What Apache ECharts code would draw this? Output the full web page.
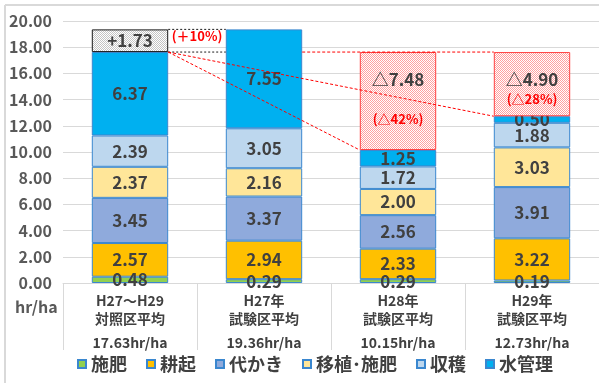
<!DOCTYPE html>
<html>
<head>
<meta charset="utf-8">
<script src="https://cdn.jsdelivr.net/npm/echarts@6/dist/echarts.min.js"></script>
<style>
  html, body { margin: 0; padding: 0; background: #fff; }
  #chart { width: 599px; height: 383px; }
</style>
</head>
<body>
<div id="chart"></div>
<script>
// Work hours per hectare by task, stacked per plot group
const categories = ['H27～H29\n対照区平均', 'H27年\n試験区平均', 'H28年\n試験区平均', 'H29年\n試験区平均'];
const taskNames = ['施肥', '耕起', '代かき', '移植･施肥', '収穫', '水管理'];
const fertilizing = [0.48, 0.29, 0.29, 0.19];
const tilling = [2.57, 2.94, 2.33, 3.22];
const puddling = [3.45, 3.37, 2.56, 3.91];
const transplanting = [2.37, 2.16, 2.00, 3.03];
const harvesting = [2.39, 3.05, 1.72, 1.88];
const waterManagement = [6.37, 7.55, 1.25, 0.50];
// difference against the control average (index 0 holds the increase of H27)
const diffValues = [1.73, null, 7.48, 4.90];
const diffPercents = [10, null, 42, 28];
const yMin = 0, yMax = 20, yStep = 2;

const taskData = [fertilizing, tilling, puddling, transplanting, harvesting, waterManagement];
const taskColors = ['#92d050', '#ffc000', '#8faadc', '#ffe699', '#bdd7ee', '#00b0f0'];
const totals = categories.map((_, i) => taskData.reduce((s, arr) => s + arr[i], 0));

const FONT = '"Noto Sans CJK JP", "Noto Sans", sans-serif';
const BAR_RATIO = 0.57;

function checker(fg) {
  const c = document.createElement('canvas');
  c.width = 2; c.height = 2;
  const g = c.getContext('2d');
  g.fillStyle = '#ffffff'; g.fillRect(0, 0, 2, 2);
  g.fillStyle = fg; g.fillRect(0, 0, 1, 1); g.fillRect(1, 1, 1, 1);
  return c;
}
const greyFill = { image: checker('#c4c4c4'), repeat: 'repeat' };
const pinkFill = { image: checker('#ffa0a0'), repeat: 'repeat' };

const chart = echarts.init(document.getElementById('chart'), null, { renderer: 'canvas' });

const taskSeries = taskNames.map((name, k) => ({
  name,
  type: 'bar',
  stack: 'total',
  barWidth: (BAR_RATIO * 100) + '%',
  data: taskData[k],
  itemStyle: { color: taskColors[k], borderColor: '#3a87cf', borderWidth: 1 },
  label: {
    show: true,
    position: 'inside',
    color: '#404040',
    fontFamily: FONT,
    fontWeight: 'bold',
    fontSize: 17,
    formatter: p => p.value.toFixed(2)
  },
  z: 2
}));

const diffSeries = {
  name: '差',
  type: 'bar',
  stack: 'total',
  barWidth: (BAR_RATIO * 100) + '%',
  z: 3,
  data: diffValues.map((v, i) => {
    if (v == null) return '-';
    const increase = i === 0;
    return {
      value: v,
      itemStyle: increase
        ? { color: greyFill, borderColor: '#1a1a1a', borderWidth: 1 }
        : { color: pinkFill, borderColor: '#ff4040', borderWidth: 1 },
      label: increase
        ? { show: true, position: 'inside', formatter: '+' + v.toFixed(2),
            color: '#404040', fontFamily: FONT, fontWeight: 'bold', fontSize: 17 }
        : {
            show: true, position: 'inside',
            offset: i === 2 ? [0, -2] : [0, 5],
            formatter: i === 2
              ? '{v|△' + v.toFixed(2) + '}\n{s| }\n{p|(△' + diffPercents[i] + '%)}'
              : '{v|△' + v.toFixed(2) + '}\n{p|(△' + diffPercents[i] + '%)}',
            rich: {
              v: { color: '#404040', fontFamily: FONT, fontWeight: 'bold', fontSize: 17, lineHeight: 20 },
              s: { fontSize: 10, lineHeight: 20 },
              p: { color: '#ff0000', fontFamily: FONT, fontWeight: 'bold', fontSize: 13, lineHeight: 19 }
            }
          }
    };
  })
};

// connector lines between the control bar and the trial bars
const connectorSeries = {
  type: 'custom',
  coordinateSystem: 'cartesian2d',
  z: 10,
  silent: true,
  data: [[0, 0]],
  renderItem: function (params, api) {
    const half = api.size([1, 0])[0] * BAR_RATIO / 2;
    const base = totals[0];
    const upTop = base + diffValues[0];
    const right0 = api.coord([0, base])[0] + half;
    const left1 = api.coord([1, base])[0] - half;
    const right1 = api.coord([1, base])[0] + half;
    const left2 = api.coord([2, base])[0] - half;
    const left3 = api.coord([3, base])[0] - half;
    const yBase = api.coord([0, base])[1];
    const yUp = api.coord([0, upTop])[1];
    const y2 = api.coord([2, totals[2]])[1];
    const y3 = api.coord([3, totals[3]])[1];
    const black = { stroke: '#1a1a1a', lineWidth: 1, lineDash: [2, 2] };
    const red = { stroke: '#ff0000', lineWidth: 1, lineDash: [3, 2] };
    return {
      type: 'group',
      children: [
        { type: 'line', shape: { x1: right0, y1: yUp, x2: left1, y2: yUp }, style: black },
        { type: 'line', shape: { x1: right0, y1: yBase, x2: left1, y2: yBase }, style: black },
        { type: 'line', shape: { x1: right1, y1: yBase, x2: left3, y2: yBase }, style: red },
        { type: 'line', shape: { x1: right0, y1: yBase, x2: left2, y2: y2 }, style: red },
        { type: 'line', shape: { x1: right0, y1: yBase, x2: left3, y2: y3 }, style: red },
        {
          type: 'text',
          x: (right0 + left1) / 2,
          y: yUp + 7,
          style: {
            text: '(＋' + diffPercents[0] + '%)',
            fill: '#ff0000',
            font: 'bold 13px ' + FONT,
            align: 'center',
            verticalAlign: 'middle'
          }
        }
      ]
    };
  }
};

const option = {
  animation: false,
  backgroundColor: '#ffffff',
  grid: { left: 63, right: 0, top: 21, bottom: 100, containLabel: false },
  legend: {
    data: taskNames,
    left: 77,
    top: 354,
    padding: 0,
    itemWidth: 8,
    itemHeight: 8,
    itemGap: 19,
    icon: 'rect',
    textStyle: { color: '#404040', fontFamily: FONT, fontWeight: 'bold', fontSize: 18, lineHeight: 20 }
  },
  xAxis: {
    type: 'category',
    data: categories,
    axisLine: { lineStyle: { color: '#d9d9d9' } },
    axisTick: { show: true, length: 67, lineStyle: { color: '#d9d9d9' } },
    axisLabel: {
      margin: 8,
      interval: 0,
      formatter: (value, idx) => {
        const [l1, l2] = value.split('\n');
        return '{a|' + l1 + '}\n{a|' + l2 + '}\n{c|' + totals[idx].toFixed(2) + 'hr/ha}';
      },
      rich: {
        a: { color: '#404040', fontFamily: FONT, fontWeight: 'bold', fontSize: 14, lineHeight: 18.5 },
        c: { color: '#404040', fontFamily: FONT, fontWeight: 'bold', fontSize: 14, lineHeight: 30 }
      }
    }
  },
  yAxis: {
    type: 'value',
    min: yMin,
    max: yMax,
    interval: yStep,
    axisLine: { show: false },
    axisTick: { show: false },
    splitLine: { lineStyle: { color: '#d9d9d9' } },
    axisLabel: {
      margin: 11,
      color: '#595959',
      fontFamily: FONT,
      fontWeight: 'bold',
      fontSize: 16,
      formatter: v => v.toFixed(2)
    }
  },
  graphic: [
    { type: 'line', shape: { x1: 5, y1: 5, x2: 599, y2: 5 }, style: { stroke: '#d9d9d9', lineWidth: 2 }, silent: true },
    { type: 'line', shape: { x1: 5, y1: 5, x2: 5, y2: 383 }, style: { stroke: '#d9d9d9', lineWidth: 2 }, silent: true },
    {
      type: 'text', left: 15, top: 299, silent: true,
      style: { text: 'hr/ha', fill: '#595959', font: 'bold 16px ' + FONT }
    }
  ],
  series: [...taskSeries, diffSeries, connectorSeries]
};

chart.setOption(option);
</script>
</body>
</html>
